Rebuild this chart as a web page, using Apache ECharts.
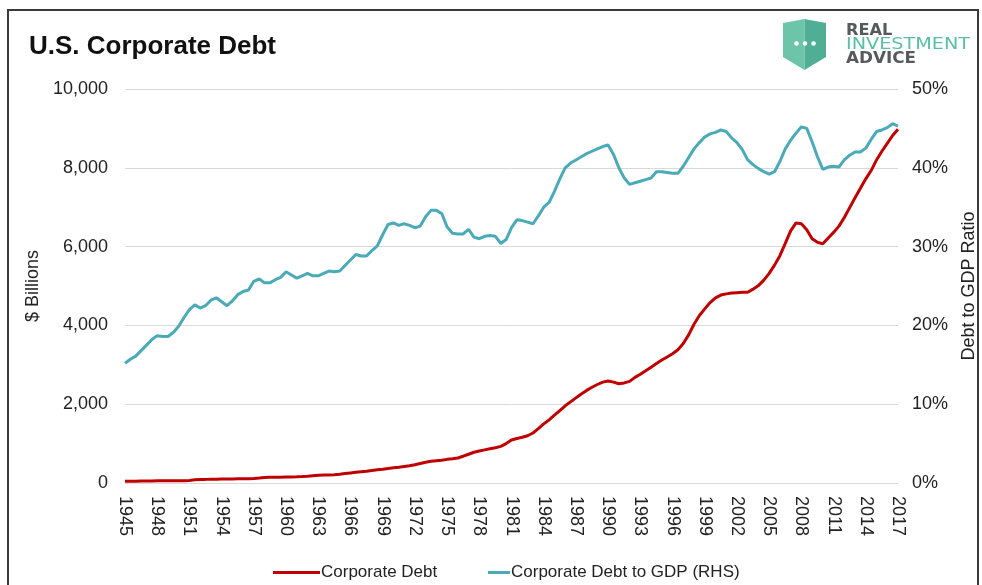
<!DOCTYPE html>
<html>
<head>
<meta charset="utf-8">
<script src="https://cdn.jsdelivr.net/npm/echarts@6/dist/echarts.min.js"></script>
<style>
html,body{margin:0;padding:0;background:#fff;}
#chart{width:982px;height:585px;}
</style>
</head>
<body>
<div id="chart"></div>
<script>
// Semi-annual periods from 1945 to 2017
const startYear = 1945;
const endYear = 2017;
const periods = [];
for (let y = startYear; y <= endYear; y++) {
  periods.push(y + ' H1');
  if (y < endYear) periods.push(y + ' H2');
}

// Corporate Debt ($ Billions), semi-annual
const corporateDebt = [
  45,45,45,48,50,52,54,55,56,57,           // 1945-1949.5
  58,60,65,80,90,92,95,97,100,102,         // 1950-1954.5
  104,106,108,110,115,125,140,143,146,149, // 1955-1959.5
  152,155,158,162,170,185,195,200,205,210, // 1960-1964.5
  220,240,255,270,285,300,320,335,350,370, // 1965-1969.5
  385,400,420,440,465,495,525,550,565,580, // 1970-1974.5
  600,615,635,680,730,780,810,840,870,895, // 1975-1979.5
  930,1000,1090,1130,1160,1200,1270,1380,1500,1600, // 1980-1984.5
  1720,1840,1960,2060,2160,2260,2350,2430,2500,2560, // 1985-1989.5
  2590,2560,2520,2540,2580,2680,2760,2850,2940,3030, // 1990-1994.5
  3120,3200,3280,3380,3540,3760,4030,4250,4420,4580, // 1995-1999.5
  4700,4770,4800,4820,4830,4840,4840,4920,5010,5150, // 2000-2004.5
  5320,5530,5770,6080,6400,6600,6580,6430,6200,6110, // 2005-2009.5
  6070,6220,6360,6520,6740,6990,7240,7480,7720,7930, // 2010-2014.5
  8200,8420,8620,8820,8980                           // 2015-2017
];

// Corporate Debt to GDP (%), semi-annual
const debtToGdp = [
  15.2,15.7,16.1,16.8,17.5,18.2,18.7,18.6,18.6,19.1, // 1945-1949.5
  19.9,21.0,22.0,22.6,22.2,22.5,23.2,23.5,23.0,22.5, // 1950-1954.5
  23.1,23.9,24.3,24.5,25.6,25.9,25.4,25.4,25.8,26.1, // 1955-1959.5
  26.8,26.4,26.0,26.3,26.6,26.3,26.3,26.6,26.9,26.8, // 1960-1964.5
  26.9,27.6,28.3,29.0,28.8,28.8,29.5,30.1,31.5,32.8, // 1965-1969.5
  33.0,32.7,32.9,32.7,32.4,32.6,33.8,34.6,34.6,34.2, // 1970-1974.5
  32.5,31.7,31.6,31.6,32.2,31.2,31.0,31.3,31.4,31.3, // 1975-1979.5
  30.4,30.9,32.4,33.4,33.3,33.1,32.9,33.9,35.0,35.6, // 1980-1984.5
  37.0,38.6,40.0,40.6,41.0,41.4,41.8,42.1,42.4,42.7, // 1985-1989.5
  42.9,41.7,40.0,38.7,37.9,38.1,38.3,38.5,38.7,39.5, // 1990-1994.5
  39.5,39.4,39.3,39.3,40.2,41.3,42.4,43.2,43.9,44.3, // 1995-1999.5
  44.5,44.8,44.6,43.8,43.2,42.3,41.0,40.4,39.9,39.5, // 2000-2004.5
  39.2,39.5,40.8,42.4,43.5,44.4,45.2,45.0,43.3,41.4, // 2005-2009.5
  39.8,40.1,40.2,40.1,41.0,41.6,42.0,42.0,42.5,43.6, // 2010-2014.5
  44.6,44.8,45.1,45.6,45.3                           // 2015-2017
];

const leftTicks = { min: 0, max: 10000, interval: 2000 };
const rightTicks = { min: 0, max: 50, interval: 10 };

const RED = '#c00000';
const BLUE = '#4aaab8';
const labelFont = 'Liberation Sans, Arial, sans-serif';

const chart = echarts.init(document.getElementById('chart'), null, { renderer: 'canvas' });

chart.setOption({
  animation: false,
  backgroundColor: '#ffffff',
  title: {
    text: 'U.S. Corporate Debt',
    left: 24,
    top: 29,
    textStyle: { fontFamily: labelFont, fontWeight: 'bold', fontSize: 26, color: '#111' }
  },
  legend: [
    {
      data: ['Corporate Debt'],
      left: 268,
      top: 559,
      itemWidth: 47,
      itemHeight: 3,
      itemGap: 4,
      icon: 'rect',
      textStyle: { fontFamily: labelFont, fontSize: 17, color: '#222', padding: [0, 0, 0, -4] }
    },
    {
      data: ['Corporate Debt to GDP (RHS)'],
      left: 483,
      top: 559,
      itemWidth: 22,
      itemHeight: 3,
      icon: 'rect',
      textStyle: { fontFamily: labelFont, fontSize: 17, color: '#222', padding: [0, 0, 0, -4] }
    }
  ],
  grid: { left: 125, right: 84, top: 89, bottom: 102, containLabel: false, outerBoundsMode: 'none' },
  xAxis: {
    type: 'category',
    data: periods,
    boundaryGap: false,
    axisLine: { show: true, lineStyle: { color: '#d9d9d9', width: 1 } },
    axisTick: { show: false },
    axisLabel: {
      interval: function (idx) { return idx % 6 === 0; },
      formatter: function (v) { return v.slice(0, 4); },
      rotate: -90,
      margin: 13,
      fontFamily: labelFont,
      fontSize: 18,
      color: '#222'
    },
    splitLine: { show: false }
  },
  yAxis: [
    {
      type: 'value',
      min: leftTicks.min, max: leftTicks.max, interval: leftTicks.interval,
      name: '$ Billions',
      nameLocation: 'middle',
      nameRotate: 90,
      nameGap: 77,
      nameTextStyle: { fontFamily: labelFont, fontSize: 18, color: '#222' },
      axisLine: { show: false },
      axisTick: { show: false },
      axisLabel: {
        margin: 17,
        fontFamily: labelFont, fontSize: 18, color: '#222',
        formatter: function (v) { return v.toLocaleString('en-US'); }
      },
      splitLine: { show: true, lineStyle: { color: '#d9d9d9', width: 1 } }
    },
    {
      type: 'value',
      min: rightTicks.min, max: rightTicks.max, interval: rightTicks.interval,
      name: 'Debt to GDP Ratio',
      nameLocation: 'middle',
      nameRotate: 90,
      nameGap: 62,
      nameTextStyle: { fontFamily: labelFont, fontSize: 18, color: '#222' },
      axisLine: { show: false },
      axisTick: { show: false },
      axisLabel: {
        margin: 14,
        fontFamily: labelFont, fontSize: 18, color: '#222',
        formatter: '{value}%'
      },
      splitLine: { show: false }
    }
  ],
  series: [
    {
      name: 'Corporate Debt to GDP (RHS)',
      type: 'line',
      yAxisIndex: 1,
      data: debtToGdp,
      showSymbol: false,
      symbol: 'none',
      lineStyle: { color: BLUE, width: 3 },
      itemStyle: { color: BLUE },
      z: 2
    },
    {
      name: 'Corporate Debt',
      type: 'line',
      yAxisIndex: 0,
      data: corporateDebt,
      showSymbol: false,
      symbol: 'none',
      lineStyle: { color: RED, width: 3 },
      itemStyle: { color: RED },
      z: 3
    }
  ],
  graphic: [
    {
      type: 'rect',
      shape: { x: 8, y: 10, width: 970, height: 600 },
      style: { fill: 'none', stroke: '#3a3a3a', lineWidth: 2 },
      silent: true, z: 100
    },
    {
      type: 'polygon',
      shape: { points: [[783, 23], [794, 21], [804.5, 19], [804.5, 70], [783, 57]] },
      style: { fill: '#6cc5a9' },
      z: 100
    },
    {
      type: 'polygon',
      shape: { points: [[804.5, 19], [815, 21], [826, 23], [826, 57], [804.5, 70]] },
      style: { fill: '#4fae93' },
      z: 100
    },
    { type: 'circle', shape: { cx: 796.5, cy: 43.5, r: 2.3 }, style: { fill: '#ffffff' }, z: 101 },
    { type: 'circle', shape: { cx: 805, cy: 43.5, r: 2.3 }, style: { fill: '#ffffff' }, z: 101 },
    { type: 'circle', shape: { cx: 813.5, cy: 43.5, r: 2.3 }, style: { fill: '#ffffff' }, z: 101 },
    {
      type: 'text', x: 846, y: 24, scaleX: 1.08, z: 101,
      style: { text: 'REAL', font: '600 15px "DejaVu Sans", sans-serif', fill: '#58595b' }
    },
    {
      type: 'text', x: 846, y: 38, scaleX: 1.28, z: 101,
      style: { text: 'INVESTMENT', font: '15px "DejaVu Sans", sans-serif', fill: '#5bbfa3' }
    },
    {
      type: 'text', x: 846, y: 52, scaleX: 1.12, z: 101,
      style: { text: 'ADVICE', font: '600 15px "DejaVu Sans", sans-serif', fill: '#58595b' }
    }
  ]
});
</script>
</body>
</html>
